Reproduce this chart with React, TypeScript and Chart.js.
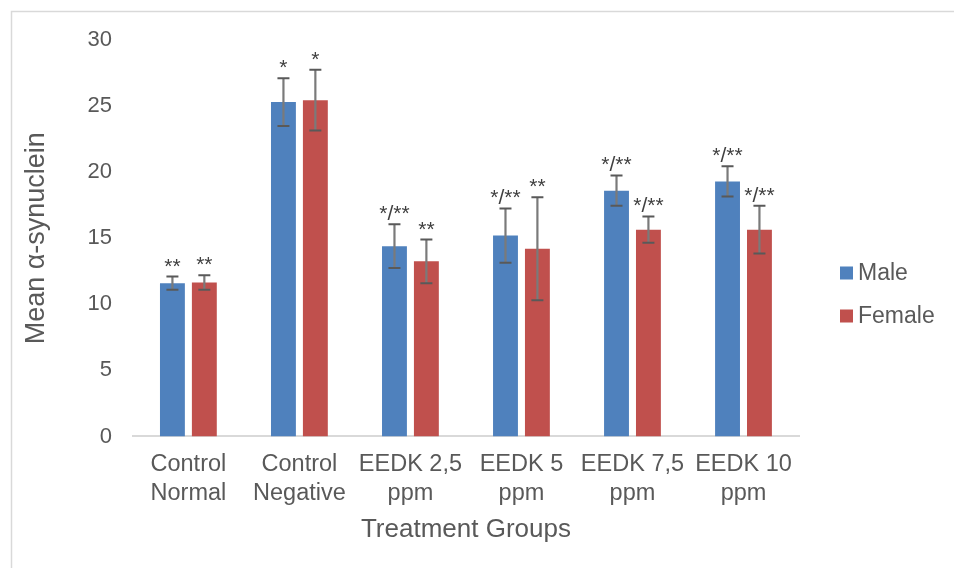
import React, { useEffect, useRef } from "react";
import { Chart, registerables } from "chart.js";

Chart.register(...registerables);

const categories: string[][] = [
  ["Control", "Normal"],
  ["Control", "Negative"],
  ["EEDK 2,5", "ppm"],
  ["EEDK 5", "ppm"],
  ["EEDK 7,5", "ppm"],
  ["EEDK 10", "ppm"],
];
const maleValues = [11.6, 25.3, 14.4, 15.2, 18.6, 19.3];
const maleErrors = [0.5, 1.8, 1.65, 2.05, 1.15, 1.15];
const femaleValues = [11.65, 25.45, 13.25, 14.2, 15.65, 15.65];
const femaleErrors = [0.55, 2.3, 1.65, 3.9, 1.0, 1.8];
const maleMarks = ["**", "*", "*/**", "*/**", "*/**", "*/**"];
const femaleMarks = ["**", "*", "**", "**", "*/**", "*/**"];
const seriesNames = ["Male", "Female"];
const yTicks = [0, 5, 10, 15, 20, 25, 30];

const BLUE = "#4f81bd";
const RED = "#c0504d";
const TEXT = "#595959";
const SANS = "'Liberation Sans', Arial, sans-serif";

const errors = [maleErrors, femaleErrors];
const marks = [maleMarks, femaleMarks];
const colors = [BLUE, RED];

const framePlugin = {
  id: "frame",
  beforeDraw(chart: any) {
    const { ctx, width, height } = chart;
    ctx.save();
    ctx.fillStyle = "#ffffff";
    ctx.fillRect(0, 0, width, height);
    ctx.strokeStyle = "#d9d9d9";
    ctx.lineWidth = 1.5;
    ctx.beginPath();
    ctx.moveTo(11.5, height);
    ctx.lineTo(11.5, 11.5);
    ctx.lineTo(width, 11.5);
    ctx.stroke();
    ctx.restore();
  },
};

const errorBarPlugin = {
  id: "errorBars",
  afterDatasetsDraw(chart: any) {
    const { ctx } = chart;
    const y = chart.scales.y;
    chart.data.datasets.forEach((ds: any, i: number) => {
      const meta = chart.getDatasetMeta(i);
      meta.data.forEach((bar: any, j: number) => {
        const v = ds.data[j];
        const e = errors[i][j];
        const top = y.getPixelForValue(v + e);
        const bottom = y.getPixelForValue(v - e);
        const x = bar.x;
        ctx.save();
        ctx.strokeStyle = "#7a7a7a";
        ctx.lineWidth = 2.2;
        ctx.beginPath();
        ctx.moveTo(x, top);
        ctx.lineTo(x, bottom);
        ctx.stroke();
        ctx.strokeStyle = "#595959";
        ctx.lineWidth = 2;
        ctx.beginPath();
        ctx.moveTo(x - 6, top);
        ctx.lineTo(x + 6, top);
        ctx.moveTo(x - 6, bottom);
        ctx.lineTo(x + 6, bottom);
        ctx.stroke();
        ctx.fillStyle = "#404040";
        ctx.font = `21px ${SANS}`;
        ctx.textAlign = "center";
        ctx.textBaseline = "alphabetic";
        ctx.fillText(marks[i][j], x, top - 4);
        ctx.restore();
      });
    });
  },
};

const legendPlugin = {
  id: "customLegend",
  afterDraw(chart: any) {
    const { ctx, chartArea } = chart;
    const x0 = chartArea.right + 41;
    const ys = [chartArea.top + 233, chartArea.top + 276];
    ctx.save();
    seriesNames.forEach((name, i) => {
      ctx.fillStyle = colors[i];
      ctx.fillRect(x0, ys[i] - 6.5, 13, 13);
      ctx.fillStyle = TEXT;
      ctx.font = `23px ${SANS}`;
      ctx.textAlign = "left";
      ctx.textBaseline = "middle";
      ctx.fillText(name, x0 + 18, ys[i] + 1);
    });
    ctx.restore();
  },
};

export default function App() {
  const ref = useRef<HTMLCanvasElement | null>(null);

  useEffect(() => {
    if (!ref.current) return;
    const chart = new Chart(ref.current, {
      type: "bar",
      data: {
        labels: categories,
        datasets: [
          {
            label: seriesNames[0],
            data: maleValues,
            backgroundColor: BLUE,
            categoryPercentage: 0.575,
            barPercentage: 0.78,
          },
          {
            label: seriesNames[1],
            data: femaleValues,
            backgroundColor: RED,
            categoryPercentage: 0.575,
            barPercentage: 0.78,
          },
        ],
      },
      options: {
        responsive: false,
        animation: false,
        devicePixelRatio: 1,
        layout: { padding: { left: 10, right: 155, top: 40, bottom: 23 } },
        plugins: {
          legend: { display: false },
          tooltip: { enabled: false },
        },
        scales: {
          x: {
            grid: { display: false, drawTicks: false },
            border: { display: true, color: "#d9d9d9", width: 2 },
            ticks: {
              color: TEXT,
              font: { family: SANS, size: 23.5, lineHeight: 1.22 },
              padding: 14,
              autoSkip: false,
              maxRotation: 0,
              minRotation: 0,
            },
            title: {
              display: true,
              text: "Treatment Groups",
              color: TEXT,
              font: { family: SANS, size: 26, lineHeight: 1.2 },
              padding: { top: -8, bottom: 0 },
            },
          },
          y: {
            min: 0,
            max: 30,
            afterBuildTicks(scale: any) {
              scale.ticks = yTicks.map((v) => ({ value: v }));
            },
            grid: { display: false, drawTicks: false },
            border: { display: false },
            ticks: {
              color: TEXT,
              font: { family: SANS, size: 22 },
              padding: 21,
            },
            title: {
              display: true,
              text: "Mean α-synuclein",
              color: TEXT,
              font: { family: SANS, size: 27, lineHeight: 1.2 },
              padding: { top: 10, bottom: 14 },
            },
          },
        },
      },
      plugins: [framePlugin, errorBarPlugin, legendPlugin],
    });
    return () => chart.destroy();
  }, []);

  return (
    <div style={{ position: "fixed", left: 0, top: 0, width: 954, height: 568 }}>
      <canvas ref={ref} width={954} height={568} style={{ width: 954, height: 568 }} />
    </div>
  );
}
